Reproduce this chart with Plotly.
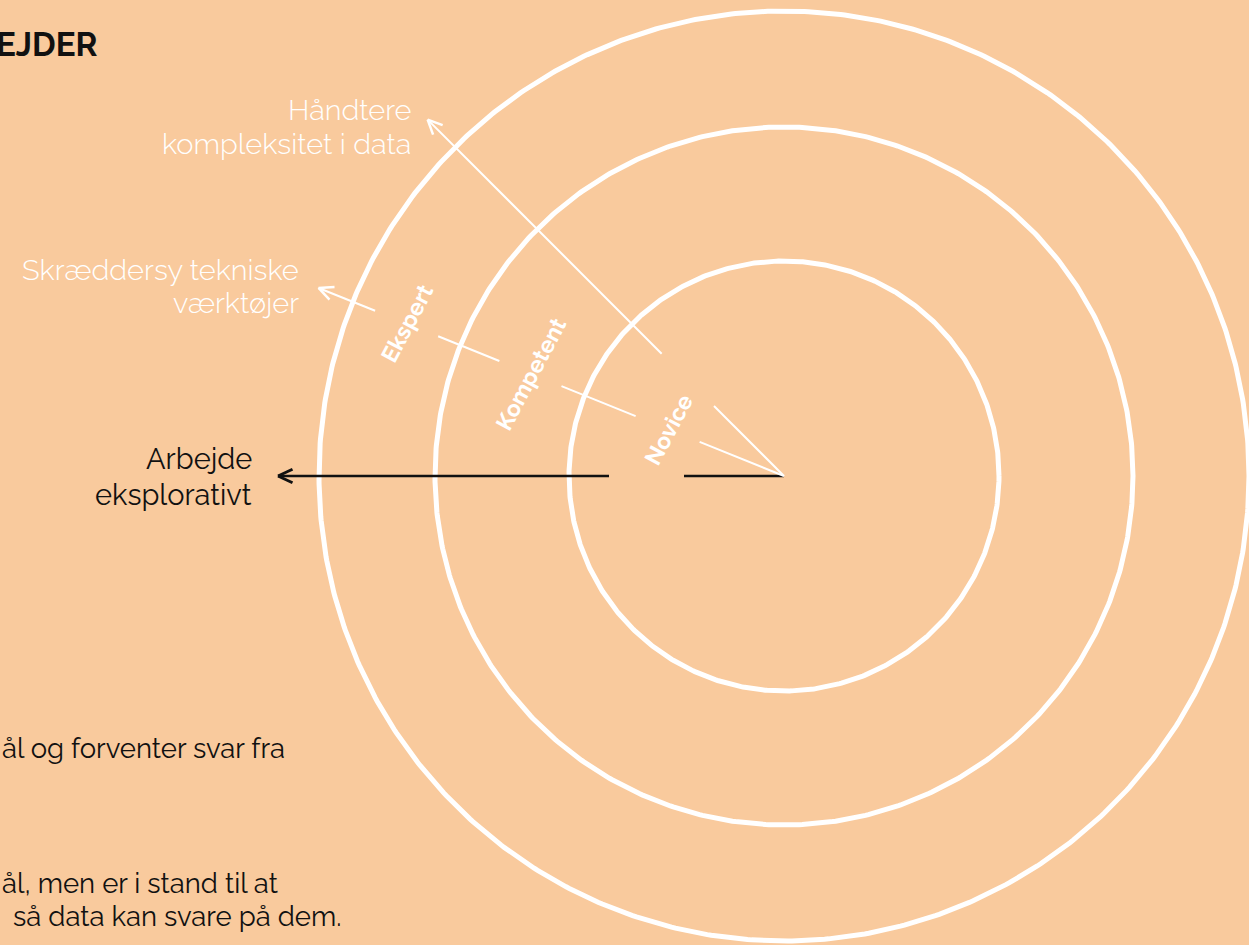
import numpy as np
import plotly.graph_objects as go

# ---------------- data ----------------
ring_radii = [215, 349, 465]
ring_labels = ["Novice", "Kompetent", "Ekspert"]
ring_label_r = [125, 273, 407]

axis_names = [["Arbejde", "eksplorativt"],
              ["Skræddersy tekniske", "værktøjer"],
              ["Håndtere", "kompleksitet i data"]]
axis_angles = [180, 158, 135]          # degrees, counter-clockwise from +x
axis_colors = ["#111111", "#FFFFFF", "#FFFFFF"]
axis_widths = [2.5, 2, 2]
axis_segments = [
    [(0, 100), (175, 506)],
    [(0, 91), (160, 240), (307, 373), (441, 502)],
    [(0, 99), (173, 504)],
]

title_text = "EJDER"
note_lines = ["ål og forventer svar fra", "ål, men er i stand til at", "så data kan svare på dem."]

# ---------------- layout constants ----------------
W, H = 1249, 945
CX, CY = 784, 476          # centre in pixels from top-left
BG = "#F9CA9D"
FONT = "Raleway, Lato, sans-serif"

def px(xp):   # pixel x -> data x
    return xp - CX

def py(yp):   # pixel y -> data y (y up)
    return CY - yp

def base_to_mid(baseline, size):
    return baseline - 0.33 * size

fig = go.Figure()

# rings
t = np.linspace(0, 2 * np.pi, 721)
for r in ring_radii:
    fig.add_trace(go.Scatter(x=r * np.cos(t), y=r * np.sin(t), mode="lines",
                             line=dict(color="white", width=5), hoverinfo="skip", showlegend=False))

# axes with gaps and chevron heads
for ang, col, lw, segs in zip(axis_angles, axis_colors, axis_widths, axis_segments):
    a = np.radians(ang)
    ux, uy = np.cos(a), np.sin(a)
    for r0, r1 in segs:
        fig.add_trace(go.Scatter(x=[r0 * ux, r1 * ux], y=[r0 * uy, r1 * uy], mode="lines",
                                 line=dict(color=col, width=lw), hoverinfo="skip", showlegend=False))
    rt = segs[-1][1]
    tx, ty = rt * ux, rt * uy
    L = 16
    hx, hy = [], []
    for d in (25, -25):
        b = a + np.pi + np.radians(d)
        hx += [tx + L * np.cos(b), tx, None]
        hy += [ty + L * np.sin(b), ty, None]
    fig.add_trace(go.Scatter(x=hx, y=hy, mode="lines", line=dict(color=col, width=lw + 0.5),
                             hoverinfo="skip", showlegend=False))

annotations = []
# axis labels: (right edge px, baseline line1 px, line spacing px)
label_place = [(254, 469, 36), (301, 280, 33), (413, 120, 34)]
LS = 29
for lines, col, (xr, b1, sp) in zip(axis_names, axis_colors, label_place):
    for i, ln in enumerate(lines):
        annotations.append(dict(x=px(xr), y=py(base_to_mid(b1 + i * sp, LS)), xref="x", yref="y",
                                text=ln, showarrow=False, xanchor="right", yanchor="middle",
                                font=dict(family=FONT, size=LS, color=col,
                                          weight=300 if col == "#FFFFFF" else 400)))

# ring labels along Skræddersy axis
a = np.radians(axis_angles[1])
for lab, r in zip(ring_labels, ring_label_r):
    annotations.append(dict(x=r * np.cos(a), y=r * np.sin(a), xref="x", yref="y", text=lab,
                            showarrow=False, textangle=-62, xanchor="center", yanchor="middle",
                            font=dict(family=FONT, size=23, color="white", weight=700)))

# title
TS = 33
annotations.append(dict(x=99 / W, y=1 - base_to_mid(55, TS) / H, xref="paper", yref="paper",
                        text=title_text, showarrow=False, xanchor="right", yanchor="middle",
                        font=dict(family=FONT, size=TS, color="#111111", weight=700)))

# notes bottom-left
NS = 27.5
note_pos = [(0, 757), (0, 892), (11, 925)]
for txt, (xp, b) in zip(note_lines, note_pos):
    annotations.append(dict(x=xp / W, y=1 - base_to_mid(b, NS) / H, xref="paper", yref="paper",
                            text=txt, showarrow=False, xanchor="left", yanchor="middle",
                            font=dict(family=FONT, size=NS, color="#111111")))

fig.update_layout(
    width=W, height=H, autosize=False,
    margin=dict(l=0, r=0, t=0, b=0, pad=0),
    paper_bgcolor=BG, plot_bgcolor=BG,
    xaxis=dict(range=[-CX, W - CX], visible=False, fixedrange=True),
    yaxis=dict(range=[CY - H, CY], visible=False, fixedrange=True),
    annotations=annotations,
    showlegend=False,
)

fig.write_html("out.html", config={"displayModeBar": False},
               post_script="document.body.style.margin='0';document.body.style.background='" + BG + "';")
